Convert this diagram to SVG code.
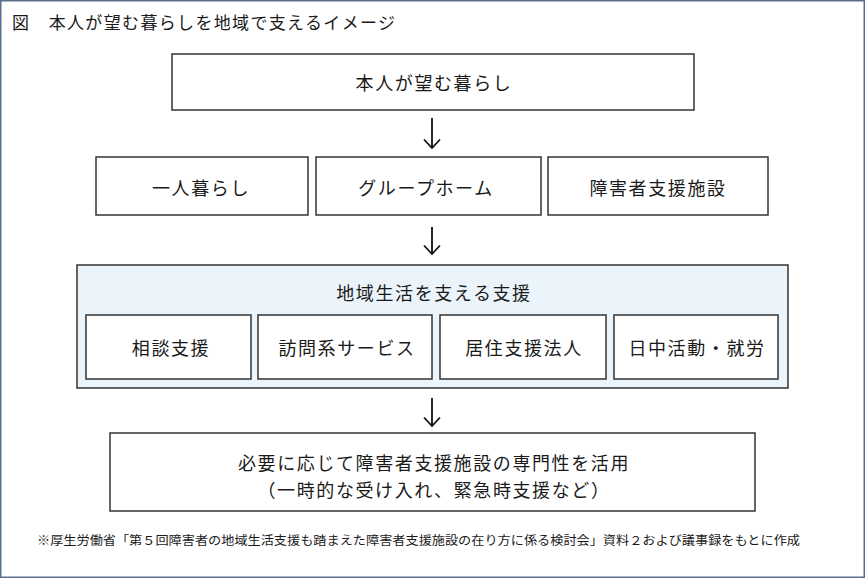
<svg xmlns="http://www.w3.org/2000/svg" width="865" height="578" viewBox="0 0 865 578">
<style>
text{font-family:"Noto Sans CJK JP","Noto Sans CJK SC",sans-serif;fill:#1a1a1a;}
.box{fill:#ffffff;stroke:#333333;stroke-width:1.5;}
.lbl{font-size:18px;text-anchor:middle;dominant-baseline:central;letter-spacing:1.6px;}
.conn{fill:none;stroke:#111111;stroke-width:1.8;}
</style>
<rect x="0.75" y="0.75" width="863.5" height="576.5" fill="#ffffff" stroke="#5a6f90" stroke-width="1.5"/>
<text x="12" y="29" font-size="17" textLength="383" lengthAdjust="spacing">図　本人が望む暮らしを地域で支えるイメージ</text>
<g id="n-hope"><rect class="box" x="172" y="54" width="522" height="56"/><text class="lbl" x="434" y="82" font-size="19">本人が望む暮らし</text></g>
<g id="n-alone"><rect class="box" x="96" y="157" width="212" height="58"/><text class="lbl" x="201" y="187" letter-spacing="3">一人暮らし</text></g>
<g id="n-group"><rect class="box" x="316" y="157" width="225" height="58"/><text class="lbl" x="426" y="187">グループホーム</text></g>
<g id="n-facility"><rect class="box" x="548" y="157" width="220" height="58"/><text class="lbl" x="658" y="187">障害者支援施設</text></g>
<g id="n-support">
<rect x="77" y="265" width="711" height="123" fill="#ebf3fb" stroke="#333333" stroke-width="1.5"/>
<text class="lbl" x="434" y="292">地域生活を支える支援</text>
</g>
<g id="n-consult"><rect class="box" x="86" y="315" width="165" height="64"/><text class="lbl" x="171" y="347" letter-spacing="2.5">相談支援</text></g>
<g id="n-visit"><rect class="box" x="258" y="315" width="174" height="64"/><text class="lbl" x="347" y="347">訪問系サービス</text></g>
<g id="n-residence"><rect class="box" x="440" y="315" width="166" height="64"/><text class="lbl" x="524" y="347">居住支援法人</text></g>
<g id="n-day"><rect class="box" x="614" y="315" width="164" height="64"/><text class="lbl" x="697" y="347" letter-spacing="0.6">日中活動・就労</text></g>
<g id="n-expert"><rect class="box" x="110" y="433" width="645" height="78"/>
<text class="lbl" x="434" y="462">必要に応じて障害者支援施設の専門性を活用</text>
<text class="lbl" x="434" y="489" letter-spacing="0.6">（一時的な受け入れ、緊急時支援など）</text>
</g>
<g id="connectors">
<path class="conn" d="M432 118V148M424 139.5L432 148L440 139.5"/>
<path class="conn" d="M432 227V254M424 245.5L432 254L440 245.5"/>
<path class="conn" d="M432 398V426M424 417.5L432 426L440 417.5"/>
</g>
<text x="37" y="545" font-size="12.2" textLength="763" lengthAdjust="spacingAndGlyphs">※厚生労働省「第５回障害者の地域生活支援も踏まえた障害者支援施設の在り方に係る検討会」資料２および議事録をもとに作成</text>
</svg>
